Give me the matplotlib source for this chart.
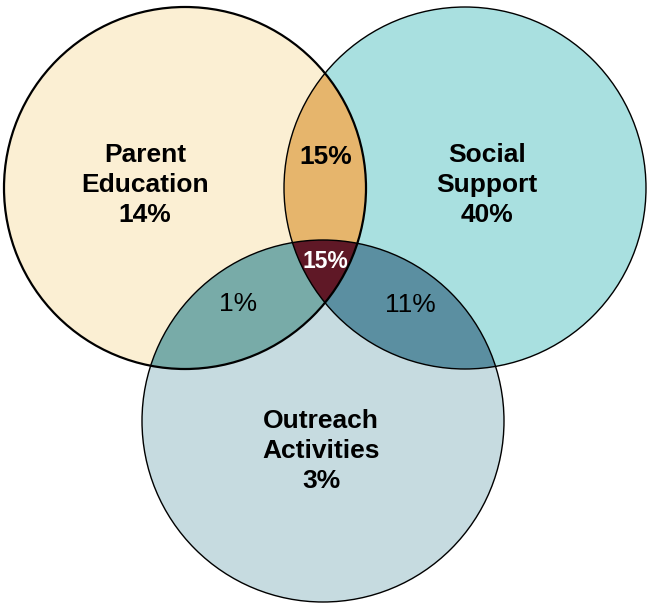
import numpy as np
import matplotlib.pyplot as plt
from matplotlib.patches import Circle, Polygon

plt.rcParams["font.family"] = ["Liberation Sans", "DejaVu Sans"]

# --- data -------------------------------------------------------------
set_names = ["Parent\nEducation", "Social\nSupport", "Outreach\nActivities"]
set_only_pct = [14, 40, 3]              # A only, B only, C only
pair_pct = {"AB": 15, "AC": 1, "BC": 11}
triple_pct = 15

# --- layout (pixel coords, y down) -------------------------------------
W, H = 648, 603
R = 181
centers = {"A": (185, 188), "B": (465, 188), "C": (323, 421)}

set_colors = {"A": "#fbefd3", "B": "#a9e0e0", "C": "#c6dbe0"}
pair_colors = {"AB": "#e6b56c", "AC": "#78aba8", "BC": "#5b8fa1"}
triple_color = "#5f1826"


def inside(pts, key):
    cx, cy = centers[key]
    return (pts[:, 0] - cx) ** 2 + (pts[:, 1] - cy) ** 2 <= R ** 2 + 1e-6


def region(keys, n=2000):
    # intersection of discs is convex: gather boundary points lying in all
    # the other discs and sort them by angle around their centroid
    t = np.linspace(0, 2 * np.pi, n, endpoint=False)
    pts = []
    for k in keys:
        cx, cy = centers[k]
        p = np.column_stack([cx + R * np.cos(t), cy + R * np.sin(t)])
        mask = np.ones(len(p), bool)
        for o in keys:
            if o != k:
                mask &= inside(p, o)
        pts.append(p[mask])
    pts = np.vstack(pts)
    c = pts.mean(axis=0)
    order = np.argsort(np.arctan2(pts[:, 1] - c[1], pts[:, 0] - c[0]))
    return pts[order]


fig = plt.figure(figsize=(W / 100, H / 100), dpi=100)
ax = fig.add_axes([0, 0, 1, 1])
ax.set_xlim(0, W)
ax.set_ylim(H, 0)
ax.set_aspect("equal")
ax.axis("off")

for k in ["A", "B", "C"]:
    ax.add_patch(Circle(centers[k], R, facecolor=set_colors[k], edgecolor="none", zorder=1))

for pair, col in pair_colors.items():
    ax.add_patch(Polygon(region(list(pair)), closed=True, facecolor=col,
                         edgecolor="none", zorder=2))
ax.add_patch(Polygon(region(["A", "B", "C"]), closed=True, facecolor=triple_color,
                     edgecolor="none", zorder=3))

lw = {"A": 1.6, "B": 1.0, "C": 1.0}
for k in ["A", "B", "C"]:
    ax.add_patch(Circle(centers[k], R, facecolor="none", edgecolor="black",
                        linewidth=lw[k], zorder=4))

# --- labels ------------------------------------------------------------
big = 19
label_pos = [(145, 185), (487, 185), (321, 451)]
for name, pct, (x, y) in zip(set_names, set_only_pct, label_pos):
    ax.text(x, y, f"{name}\n{pct}%", ha="center", va="center", fontsize=big,
            fontweight="bold", linespacing=1.32, zorder=5)

ax.text(326, 157, f"{pair_pct['AB']}%", ha="center", va="center",
        fontsize=big, fontweight="bold", zorder=5)
ax.text(238, 304, f"{pair_pct['AC']}%", ha="center", va="center",
        fontsize=big, zorder=5)
ax.text(410, 305, f"{pair_pct['BC']}%", ha="center", va="center",
        fontsize=big, zorder=5)
ax.text(325, 262, f"{triple_pct}%", ha="center", va="center",
        fontsize=16.5, fontweight="bold", color="white", zorder=5)

fig.savefig("out.png", dpi=100, facecolor="white")
